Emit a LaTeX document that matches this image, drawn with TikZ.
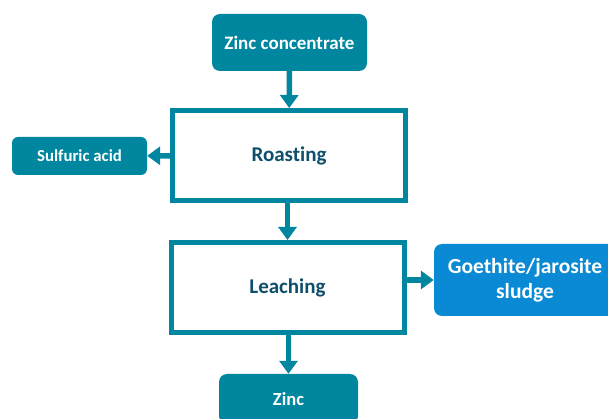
\documentclass[tikz,border=0pt]{standalone}
\usepackage{fontspec}
\setmainfont{Carlito}[Ligatures=NoCommon]
\usetikzlibrary{arrows.meta,calc}
\definecolor{teal}{HTML}{00869E}
\definecolor{blu}{HTML}{0A8AD4}
\definecolor{dark}{HTML}{0E4F6B}
\tikzset{
  px/.style={x=1pt,y=-1pt},
  filled/.style={rectangle,rounded corners=8pt,fill=teal,text=white,font=\bfseries,inner sep=0pt,align=center},
  stage/.style={rectangle,draw=teal,line width=5pt,fill=white,text=dark,font=\fontsize{21}{24}\selectfont\bfseries,minimum width=233pt,minimum height=90pt,inner sep=0pt},
  flow/.style={draw=teal,line width=5.5pt,-{Triangle[width=18pt,length=13pt]}},
}
\begin{document}
\begin{tikzpicture}[px]
\useasboundingbox (0,0) rectangle (608,419);
\clip (0,0) rectangle (608,419);
\node[filled,minimum width=155pt,minimum height=57pt,font=\fontsize{19}{22}\selectfont\bfseries] (zc) at (289.5,42.5) {Zinc concentrate};
\node[stage] (roast) at (289,155.5) {Roasting};
\node[filled,rounded corners=6pt,minimum width=135pt,minimum height=38pt,font=\fontsize{16.8}{19}\selectfont\bfseries] (sa) at (79.5,156) {Sulfuric acid};
\node[stage] (leach) at (287.5,287.5) {Leaching};
\node[filled,fill=blu,minimum width=182pt,minimum height=72pt,font=\fontsize{21.5}{25}\selectfont\bfseries] (goe) at (525,280) {Goethite/jarosite\\sludge};
\node[filled,minimum width=139pt,minimum height=50pt,font=\fontsize{18.5}{21}\selectfont\bfseries] (zn) at (288.5,399) {Zinc};
\draw[flow] (zc) -- (roast);
\draw[flow] (roast) -- (sa);
\draw[flow] (roast.south -| leach.north) -- (leach.north);
\draw[flow] (leach.east |- goe.west) -- (goe.west);
\draw[flow] (leach.south -| zn.north) -- (zn.north);
\end{tikzpicture}
\end{document}
